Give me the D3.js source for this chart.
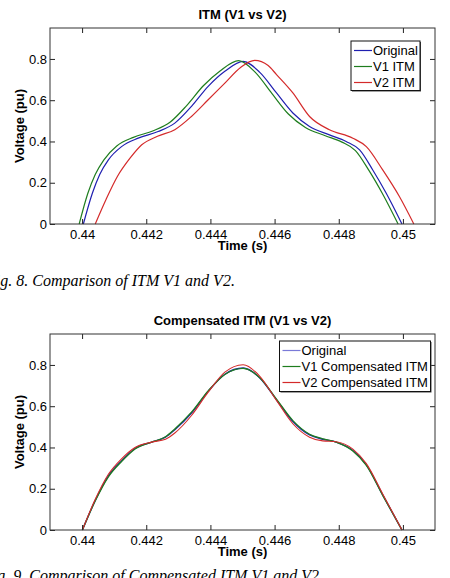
<!DOCTYPE html>
<html>
<head>
<meta charset="utf-8">
<script src="https://cdn.jsdelivr.net/npm/d3@7"></script>
<style>
  html, body { margin: 0; padding: 0; background: #fff; }
  svg { display: block; }
  .tk text { font-family: "Liberation Sans", Arial, sans-serif; font-size: 13px; fill: #000; }
</style>
</head>
<body>
<svg id="chart" width="450" height="578"></svg>
<script>
// ---------- data ----------
const xTicks = [0.44, 0.442, 0.444, 0.446, 0.448, 0.45];
const xTickLabels = ["0.44", "0.442", "0.444", "0.446", "0.448", "0.45"];
const yTicks = [0, 0.2, 0.4, 0.6, 0.8];
const yTickLabels = ["0", "0.2", "0.4", "0.6", "0.8"];

const titles = ["ITM (V1 vs V2)", "Compensated ITM (V1 vs V2)"];
const captions = ["Fig. 8. Comparison of ITM V1 and V2.", "Fig. 9. Comparison of Compensated ITM V1 and V2."];
const legend1 = ["Original", "V1 ITM", "V2 ITM"];
const legend2 = ["Original", "V1 Compensated ITM", "V2 Compensated ITM"];

// Fig. 8 series
const tOrig1 = [0.44004, 0.44032, 0.44055, 0.44082, 0.44123, 0.44175, 0.44237, 0.44289, 0.44341, 0.44393, 0.44445, 0.44502, 0.44554, 0.44606, 0.44657, 0.44709, 0.44771, 0.44823, 0.44865, 0.44906, 0.44948, 0.44997];
const vOrig1 = [0, 0.149, 0.24, 0.311, 0.375, 0.416, 0.448, 0.489, 0.570, 0.667, 0.740, 0.788, 0.735, 0.635, 0.538, 0.473, 0.432, 0.400, 0.359, 0.262, 0.149, 0];
const tV1a = [0.43991, 0.44018, 0.44041, 0.44068, 0.44108, 0.44160, 0.44222, 0.44274, 0.44326, 0.44378, 0.44430, 0.44488, 0.44540, 0.44592, 0.44643, 0.44696, 0.44758, 0.44810, 0.44852, 0.44894, 0.44936, 0.44985];
const vV1a = [0, 0.149, 0.24, 0.311, 0.378, 0.420, 0.452, 0.493, 0.574, 0.670, 0.742, 0.792, 0.735, 0.632, 0.533, 0.468, 0.428, 0.397, 0.356, 0.260, 0.148, 0];
const tV2a = [0.44041, 0.44075, 0.44110, 0.44150, 0.44186, 0.44235, 0.44289, 0.44340, 0.44393, 0.44445, 0.44495, 0.44538, 0.44580, 0.44606, 0.44657, 0.44709, 0.44771, 0.44844, 0.44886, 0.44937, 0.44989, 0.45034];
const vV2a = [0, 0.12, 0.23, 0.32, 0.384, 0.425, 0.457, 0.52, 0.602, 0.683, 0.760, 0.793, 0.768, 0.724, 0.635, 0.521, 0.457, 0.416, 0.375, 0.262, 0.133, 0];

// Fig. 9 series
const tComp = [0.44001, 0.44040, 0.44082, 0.44123, 0.44165, 0.44217, 0.44260, 0.44289, 0.44341, 0.44393, 0.44445, 0.44502, 0.44554, 0.44606, 0.44657, 0.44709, 0.44750, 0.44792, 0.44844, 0.44886, 0.44937, 0.44997];
const vOrig2 = [0, 0.14, 0.262, 0.335, 0.395, 0.426, 0.450, 0.486, 0.567, 0.672, 0.755, 0.785, 0.737, 0.631, 0.526, 0.461, 0.440, 0.426, 0.385, 0.316, 0.17, 0];
const vV1b = [0, 0.138, 0.258, 0.332, 0.393, 0.426, 0.452, 0.490, 0.571, 0.674, 0.754, 0.783, 0.738, 0.634, 0.530, 0.464, 0.442, 0.426, 0.383, 0.313, 0.168, 0];
const vV2b = [0, 0.145, 0.27, 0.345, 0.40, 0.426, 0.440, 0.470, 0.555, 0.668, 0.765, 0.801, 0.745, 0.628, 0.515, 0.450, 0.432, 0.428, 0.392, 0.322, 0.175, 0];

const colBlue = "#1f1fb0", colGreen = "#1e7d1e", colRed = "#d42a2a", colLav = "#7a7ad8";

// ---------- drawing ----------
const svg = d3.select("#chart");
const font = '"Liberation Sans", Arial, sans-serif';

function drawPanel(cfg) {
  const x = d3.scaleLinear().domain([0.439, 0.451]).range([50, 435]);
  const y = d3.scaleLinear().domain([0, 0.95]).range([cfg.bottom, cfg.bottom - 196]);
  const g = svg.append("g");

  // series
  const line = d3.line().x(d => x(d[0])).y(d => y(d[1])).curve(d3.curveMonotoneX);
  cfg.series.forEach(s => {
    const pts = s.t.map((t, i) => [t, s.v[i]]);
    g.append("path").datum(pts).attr("d", line)
      .attr("fill", "none").attr("stroke", s.color).attr("stroke-width", s.w || 1.2);
  });

  // axes (MATLAB style, ticks inward, box)
  const ax = g.append("g").attr("class", "tk");
  ax.append("g").attr("transform", `translate(0,${y(0)})`)
    .call(d3.axisBottom(x).tickValues(xTicks).tickFormat((d, i) => xTickLabels[i]).tickSizeInner(-5).tickSizeOuter(0).tickPadding(7))
    .call(s => s.selectAll("text").attr("dy", "0.71em").attr("y", 6));
  ax.append("g").attr("transform", `translate(0,${y(0.95)})`)
    .call(d3.axisTop(x).tickValues(xTicks).tickFormat("").tickSizeInner(-5).tickSizeOuter(0));
  ax.append("g").attr("transform", `translate(${x(0.439)},0)`)
    .call(d3.axisLeft(y).tickValues(yTicks).tickFormat((d, i) => yTickLabels[i]).tickSizeInner(-5).tickSizeOuter(0).tickPadding(3));
  ax.append("g").attr("transform", `translate(${x(0.451)},0)`)
    .call(d3.axisRight(y).tickValues(yTicks).tickFormat("").tickSizeInner(-5).tickSizeOuter(0));
  ax.selectAll(".domain").remove();
  ax.selectAll("line").attr("stroke", "#222");
  g.append("rect").attr("x", x(0.439)).attr("y", y(0.95))
    .attr("width", x(0.451) - x(0.439)).attr("height", y(0) - y(0.95))
    .attr("fill", "none").attr("stroke", "#333").attr("stroke-width", 1);

  // title and axis labels
  g.append("text").attr("x", 242.5).attr("y", cfg.bottom - 205).attr("text-anchor", "middle")
    .attr("font-family", font).attr("font-weight", "bold").attr("font-size", 13).text(cfg.title);
  g.append("text").attr("x", 242.5).attr("y", cfg.bottom + 26).attr("text-anchor", "middle")
    .attr("font-family", font).attr("font-weight", "bold").attr("font-size", 13).text("Time (s)");
  g.append("text").attr("transform", `translate(24,${cfg.bottom - 98}) rotate(-90)`).attr("text-anchor", "middle")
    .attr("font-family", font).attr("font-weight", "bold").attr("font-size", 13).text("Voltage (pu)");

  // legend
  const L = cfg.legend;
  const lg = g.append("g");
  lg.append("rect").attr("x", L.x0 + 1).attr("y", L.y0 + 1).attr("width", L.x1 - L.x0).attr("height", L.y1 - L.y0)
    .attr("fill", "#444");
  lg.append("rect").attr("x", L.x0).attr("y", L.y0).attr("width", L.x1 - L.x0).attr("height", L.y1 - L.y0)
    .attr("fill", "#fff").attr("stroke", "#111").attr("stroke-width", 1);
  L.labels.forEach((lab, i) => {
    const cy = L.y0 + 9.5 + i * 16;
    lg.append("line").attr("x1", L.x0 + 3).attr("x2", L.x0 + 21).attr("y1", cy).attr("y2", cy)
      .attr("stroke", L.colors[i]).attr("stroke-width", 1.2);
    lg.append("text").attr("x", L.x0 + 22).attr("y", cy + 4.5)
      .attr("font-family", font).attr("font-size", 13).text(lab);
  });

  // caption
  g.append("text").attr("x", cfg.capX).attr("y", cfg.capY)
    .attr("font-family", '"Liberation Serif", "Times New Roman", serif').attr("font-style", "italic")
    .attr("font-size", 16).text(cfg.caption);
}

drawPanel({
  bottom: 224,
  title: titles[0],
  caption: captions[0], capX: -14, capY: 286,
  series: [
    { t: tOrig1, v: vOrig1, color: colBlue },
    { t: tV1a, v: vV1a, color: colGreen },
    { t: tV2a, v: vV2a, color: colRed }
  ],
  legend: { x0: 351, x1: 420, y0: 41, y1: 90.5, labels: legend1, colors: [colBlue, colGreen, colRed] }
});

drawPanel({
  bottom: 530,
  title: titles[1],
  caption: captions[1], capX: -17, capY: 581,
  series: [
    { t: tComp, v: vOrig2, color: colBlue, w: 1.4 },
    { t: tComp, v: vV1b, color: colGreen, w: 1.3 },
    { t: tComp, v: vV2b, color: colRed, w: 1.1 }
  ],
  legend: { x0: 279.5, x1: 430.5, y0: 341, y1: 391.5, labels: legend2, colors: [colLav, colGreen, colRed] }
});
</script>
</body>
</html>
